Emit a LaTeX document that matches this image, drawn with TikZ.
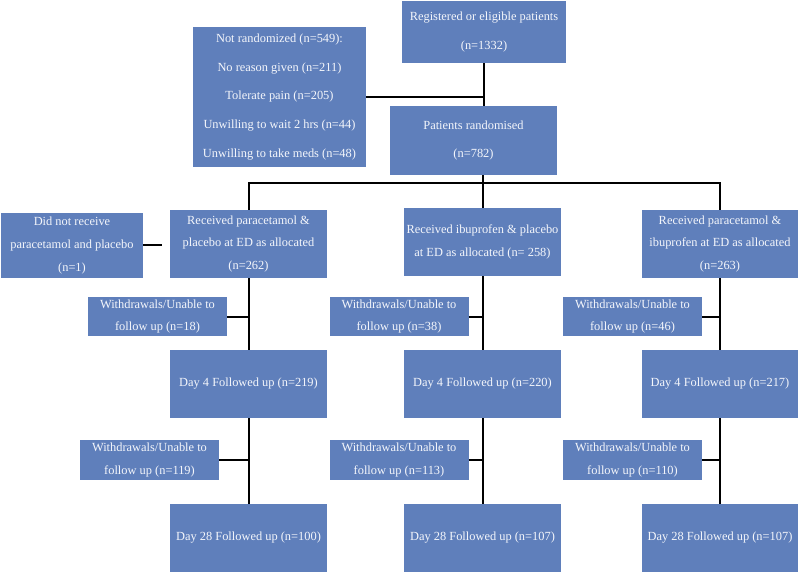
\documentclass[tikz,border=0pt]{standalone}
\usepackage{fontspec}
\setmainfont{Liberation Serif}
\usepackage{xcolor}
\usepackage{tikz}
\usetikzlibrary{positioning,calc}
\definecolor{BoxBlue}{HTML}{5F7FBB}
\definecolor{TextLight}{HTML}{F4F6FB}

\begin{document}
\begin{tikzpicture}[x=1pt,y=-1pt,
        every node/.style={font=\fontsize{12.4}{22.6}\selectfont},
        BX/.style={fill=BoxBlue, draw=none, inner sep=2pt,
            minimum height=68pt, minimum width=157pt,
            align=center, text=TextLight},
        TP/.style={BX, font=\fontsize{12.4}{28.6}\selectfont},
        WD/.style={BX, minimum height=39pt, minimum width=139pt},
        ln/.style={line width=2pt, black},
      ]
      \useasboundingbox (0,0) rectangle (800,577);

      % Top part
      \node[TP, minimum width=164pt, minimum height=62pt] (reg) at (484,32)
        {Registered or eligible patients\\(n=1332)};
      \node[TP, minimum width=173pt, minimum height=140pt] (notr) at (279.5,97)
        {Not randomized (n=549):\\No reason given (n=211)\\Tolerate pain (n=205)\\%
         Unwilling to wait 2 hrs (n=44)\\Unwilling to take meds (n=48)};
      \node[TP, minimum width=167pt, minimum height=69pt] (rand) at (473.5,140.5)
        {Patients randomised\\(n=782)};

      % Allocation
      \node[BX, minimum width=142pt, minimum height=65pt] (dnr) at (72,245.5)
        {Did not receive\\paracetamol and placebo\\(n=1)};
      \node[BX] (rpp) at (248.5,244) {Received paracetamol \&\\placebo at ED as allocated\\(n=262)};
      \node[BX] (rip) at (482.5,242) {Received ibuprofen \& placebo\\at ED as allocated (n= 258)};
      \node[BX, minimum width=156pt] (rpi) at (720,244)
        {Received paracetamol \&\\ibuprofen at ED as allocated\\(n=263)};

      % Withdrawals before day 4
      \node[WD] (wa) at (157.5,316.5) {Withdrawals/Unable to\\follow up (n=18)};
      \node[WD] (wb) at (399,316.5)   {Withdrawals/Unable to\\follow up (n=38)};
      \node[WD] (wc) at (632.5,316.5) {Withdrawals/Unable to\\follow up (n=46)};

      % Day 4
      \node[BX] (fa) at (248.5,384) {Day 4 Followed up (n=219)};
      \node[BX] (fb) at (482.5,384) {Day 4 Followed up (n=220)};
      \node[BX, minimum width=156pt] (fc) at (720,384) {Day 4 Followed up (n=217)};

      % Withdrawals before day 28
      \node[WD, minimum height=40pt] (xa) at (149.5,460) {Withdrawals/Unable to\\follow up (n=119)};
      \node[WD, minimum height=40pt] (xb) at (399,460)   {Withdrawals/Unable to\\follow up (n=113)};
      \node[WD, minimum height=40pt] (xc) at (632.5,460) {Withdrawals/Unable to\\follow up (n=110)};

      % Day 28
      \node[BX] (ta) at (248.5,538) {Day 28 Followed up (n=100)};
      \node[BX] (tb) at (482.5,538) {Day 28 Followed up (n=107)};
      \node[BX, minimum width=156pt] (tc) at (720,538) {Day 28 Followed up (n=107)};

      % Branch helper coordinates
      \coordinate (hub) at (483,183);

      % Connectors
      \draw[ln] (reg.south) -- (reg.south |- rand.north);
      \draw[ln] (notr.east) -- (notr.east -| reg.south);
      \draw[ln] (rand.south -| hub) -- (hub);
      \draw[ln] (rpp.north) |- (hub) -| (rpi.north);
      \draw[ln] (hub) -- (hub |- rip.north);
      \draw[ln, shorten >=8pt] (dnr.east) -- (dnr.east -| rpp.west);

      \draw[ln] (rpp.south) -- (fa.north);
      \draw[ln] (rip.south) -- (fb.north);
      \draw[ln] (rpi.south) -- (fc.north);
      \draw[ln] (fa.south) -- (ta.north);
      \draw[ln] (fb.south) -- (tb.north);
      \draw[ln] (fc.south) -- (tc.north);

      \draw[ln] (wa.east) -- (wa.east -| rpp.south);
      \draw[ln] (wb.east) -- (wb.east -| rip.south);
      \draw[ln] (wc.east) -- (wc.east -| rpi.south);
      \draw[ln] (xa.east) -- (xa.east -| fa.south);
      \draw[ln] (xb.east) -- (xb.east -| fb.south);
      \draw[ln] (xc.east) -- (xc.east -| fc.south);

    \end{tikzpicture}
\end{document}
